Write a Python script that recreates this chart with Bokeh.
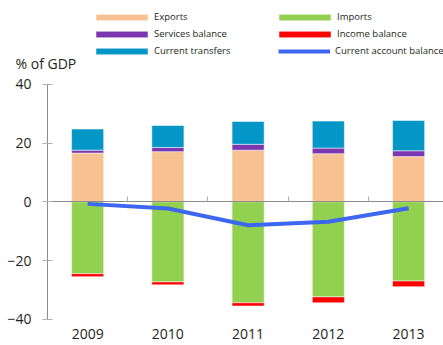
from bokeh.plotting import figure
from bokeh.models import (ColumnDataSource, Range1d, LinearAxis, FixedTicker,
                          Legend, LegendItem, Label)
from bokeh.embed import file_html
from bokeh.resources import INLINE

# ---- data ----
years = [2009, 2010, 2011, 2012, 2013]
year_labels = ["2009", "2010", "2011", "2012", "2013"]
exports = [16.6, 17.1, 17.6, 16.4, 15.4]
services = [1.0, 1.4, 2.0, 1.9, 2.0]
transfers = [7.2, 7.5, 7.8, 9.2, 10.3]
imports = [-24.5, -27.3, -34.4, -32.4, -27.0]
income = [-1.0, -1.0, -1.1, -2.0, -1.9]
current_account = [-0.7, -2.3, -8.0, -6.8, -2.2]
y_ticks = [-40, -20, 0, 20, 40]
boundary_ticks = [2008.5, 2009.5, 2010.5, 2011.5, 2012.5]

FONT = "Open Sans"
TXT = "#231f20"
AX = "#8c8c8c"
TK = "#b0b0b0"

src = ColumnDataSource(dict(year=years, exports=exports, services=services,
                            transfers=transfers, imports=imports, income=income,
                            ca=current_account))

p = figure(width=443, height=345, output_backend="svg", toolbar_location=None,
           x_range=Range1d(2007.914, 2013.435), y_range=Range1d(-48.96, 68.6),
           x_axis_type=None, y_axis_type=None,
           min_border_left=0, min_border_top=0, min_border_bottom=0,
           min_border_right=0)
p.outline_line_color = None
p.grid.visible = False
p.background_fill_color = "white"
p.border_fill_color = "white"

pos = p.vbar_stack(["exports", "services", "transfers"], x="year", width=0.4,
                   color=["#f8c192", "#7b37af", "#0596c8"], source=src,
                   line_color="white", line_alpha=0.5, line_width=1)
neg = p.vbar_stack(["imports", "income"], x="year", width=0.4,
                   color=["#92d050", "#ff0000"], source=src,
                   line_color="white", line_alpha=0.5, line_width=1)
ln = p.line("year", "ca", source=src, line_color="#3d67f0", line_width=4)

# y axis, bounded to -40..40, pinned at the left category edge
yax = LinearAxis(ticker=FixedTicker(ticks=y_ticks), bounds=(-40, 40),
                 fixed_location=2008.5)
yax.axis_line_color = AX
yax.major_tick_line_color = TK
yax.major_tick_in = 5
yax.major_tick_out = 5
yax.minor_tick_line_color = None
yax.major_label_standoff = 11
yax.major_label_text_font = FONT
yax.major_label_text_font_size = "14px"
yax.major_label_text_color = TXT
p.add_layout(yax, "left")

# zero line with category-boundary ticks
zax = LinearAxis(ticker=FixedTicker(ticks=boundary_ticks), fixed_location=0,
                 bounds=(2008.5, 2014))
zax.axis_line_color = AX
zax.major_tick_line_color = TK
zax.major_tick_in = 5
zax.major_tick_out = 0
zax.minor_tick_line_color = None
zax.major_label_standoff = 0
zax.major_label_text_font_size = "0px"
zax.major_label_text_alpha = 0
p.add_layout(zax, "below")

# year labels at bottom, pinned below -40
xax = LinearAxis(ticker=FixedTicker(ticks=years), fixed_location=-40,
                 major_label_overrides={y: l for y, l in zip(years, year_labels)})
xax.axis_line_color = None
xax.major_tick_line_color = None
xax.minor_tick_line_color = None
xax.major_tick_out = 0
xax.major_tick_in = 0
xax.major_label_standoff = 10
xax.major_label_text_font = FONT
xax.major_label_text_font_size = "14px"
xax.major_label_text_color = TXT
p.add_layout(xax, "below")

# unit label
p.add_layout(Label(x=2008.5, y=40, x_offset=-32, y_offset=21, text="% of GDP",
                   text_font=FONT, text_font_size="14px", text_color=TXT,
                   text_baseline="middle", text_align="left"))

def mk_legend(items, loc, gw, gh, standoff):
    return Legend(items=items, location=loc, orientation="vertical",
                  padding=0, margin=0, spacing=0, label_height=17,
                  glyph_height=gh, glyph_width=gw, label_standoff=standoff,
                  label_text_font=FONT, label_text_font_size="9.5px",
                  label_text_color=TXT, background_fill_alpha=0,
                  border_line_color=None)

# legend offsets measured from the bottom-left of the (full-canvas) frame
leg1 = mk_legend([LegendItem(label="Exports", renderers=[pos[0]]),
                  LegendItem(label="Services balance", renderers=[pos[1]]),
                  LegendItem(label="Current transfers", renderers=[pos[2]])],
                 (89, 286), 65, 8, -2)
leg2 = mk_legend([LegendItem(label="Imports", renderers=[neg[0]]),
                  LegendItem(label="Income balance", renderers=[neg[1]])],
                 (272, 303), 65, 8, -2)
leg3 = mk_legend([LegendItem(label="Current account balance", renderers=[ln])],
                 (278, 286), 52, 8, 5)
p.add_layout(leg1, "center")
p.add_layout(leg2, "center")
p.add_layout(leg3, "center")

open("out.html", "w").write(file_html(p, INLINE))
